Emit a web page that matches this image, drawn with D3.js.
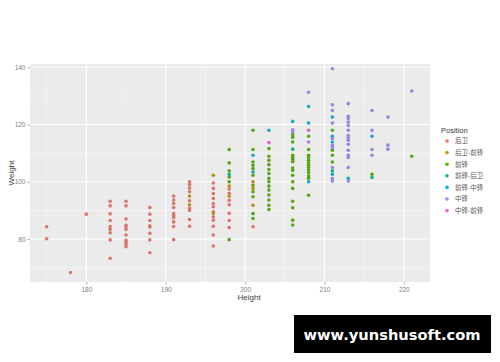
<!DOCTYPE html>
<html>
<head>
<meta charset="utf-8">
<script src="https://cdn.jsdelivr.net/npm/d3@7"></script>
<style>
  html, body { margin: 0; padding: 0; background: #ffffff; }
  svg { display: block; }
</style>
</head>
<body>
<svg id="chart" width="500" height="362"></svg>
<script>
// Player positions (legend order) and their ggplot hue colours
const positions = ["后卫", "后卫-前锋", "前锋", "前锋-后卫", "前锋-中锋", "中锋", "中锋-前锋"];
const colors = ["#F8766D", "#C49A00", "#53B400", "#00C094", "#00B6EB", "#A58AFF", "#FB61D7"];

// [height (cm), weight (kg)] per position
const guards = [
  [175, 84.3], [175, 80.1], [178, 68.3], [180, 88.7],
  [183, 93.2], [183, 91.6], [183, 88.8], [183, 86.5], [183, 84.4], [183, 83.4], [183, 82.2], [183, 79.7], [183, 73.3],
  [185, 93.2], [185, 91.6], [185, 87.0], [185, 84.8], [185, 84.2], [185, 83.4], [185, 81.4], [185, 79.6], [185, 78.8], [185, 78.1], [185, 77.3],
  [188, 91.0], [188, 88.7], [188, 86.5], [188, 84.6], [188, 84.2], [188, 82.0], [188, 79.7], [188, 75.2],
  [191, 95.0], [191, 93.6], [191, 92.4], [191, 91.0], [191, 88.9], [191, 88.2], [191, 87.5], [191, 86.0], [191, 84.4], [191, 79.8],
  [193, 100.0], [193, 99.0], [193, 97.8], [193, 96.5], [193, 93.4], [193, 90.8], [193, 90.1], [193, 86.8], [193, 84.5],
  [196, 99.6], [196, 97.7], [196, 95.9], [196, 94.2], [196, 92.4], [196, 91.3], [196, 89.5], [196, 87.8], [196, 86.6], [196, 84.5], [196, 81.4], [196, 77.6],
  [198, 97.5], [198, 96.0], [198, 93.5], [198, 92.0], [198, 89.0], [198, 86.5], [198, 84.0],
  [201, 84.3]
];
const guardForwards = [
  [193, 95.0], [193, 92.0], [196, 102.3], [196, 89.0],
  [198, 98.5], [198, 95.0], [201, 100.0], [201, 97.7], [201, 91.8]
];
const forwards = [
  [198, 111.3], [198, 106.6], [198, 103.8], [198, 101.7], [198, 100.0], [198, 79.8],
  [201, 118.0], [201, 111.3], [201, 106.9], [201, 105.8], [201, 104.6], [201, 102.3], [201, 98.8], [201, 96.5], [201, 94.8], [201, 88.9], [201, 87.2],
  [203, 111.6], [203, 108.9], [203, 107.5], [203, 106.0], [203, 104.3], [203, 102.9], [203, 101.2], [203, 100.0], [203, 98.5], [203, 97.1], [203, 95.4], [203, 93.6], [203, 91.8], [203, 90.3],
  [206, 116.5], [206, 115.6], [206, 113.9], [206, 109.3], [206, 108.5], [206, 107.8], [206, 107.0], [206, 104.8], [206, 104.0], [206, 102.3], [206, 100.0], [206, 97.7], [206, 93.2], [206, 90.9], [206, 86.6], [206, 84.9],
  [208, 115.9], [208, 111.3], [208, 109.3], [208, 108.5], [208, 107.5], [208, 106.6], [208, 105.8], [208, 105.0], [208, 104.1], [208, 103.2], [208, 102.0], [208, 101.2], [208, 95.3],
  [211, 118.0], [211, 111.0], [211, 109.3], [211, 106.9],
  [216, 102.6], [221, 108.9]
];
const forwardGuards = [
  [198, 102.6], [201, 103.4], [206, 111.4], [211, 103.8], [216, 101.5]
];
const forwardCenters = [
  [201, 109.3], [203, 118.0], [206, 121.1], [208, 126.3], [208, 120.5], [208, 100.0],
  [211, 122.6], [211, 115.9], [211, 113.9], [211, 102.6], [213, 101.2], [216, 115.9]
];
const centers = [
  [206, 118.2], [206, 117.4], [208, 131.3], [208, 113.9],
  [211, 139.5], [211, 126.9], [211, 124.9], [211, 120.5], [211, 115.1], [211, 112.8], [211, 112.0], [211, 105.0], [211, 101.1], [211, 100.3],
  [213, 127.3], [213, 122.9], [213, 122.1], [213, 120.9], [213, 119.7], [213, 118.0], [213, 116.2], [213, 115.4], [213, 114.5], [213, 113.1], [213, 111.0], [213, 109.3], [213, 108.5], [213, 105.0], [213, 100.3],
  [216, 124.9], [216, 118.0], [216, 111.3], [216, 109.3],
  [218, 122.6], [218, 112.8], [218, 111.4], [221, 131.7]
];
const centerForwards = [[203, 113.7], [208, 118.0]];

const groups = [guards, guardForwards, forwards, forwardGuards, forwardCenters, centers, centerForwards];

const xTicks = [180, 190, 200, 210, 220];
const xMinor = [175, 185, 195, 205, 215];
const yTicks = [80, 100, 120, 140];
const yMinor = [70, 90, 110, 130];

const svg = d3.select("#chart");
const panel = { left: 30, right: 430, top: 64, bottom: 282 };

const x = d3.scaleLinear().domain([172.9, 223.3]).range([panel.left, panel.right]);
const y = d3.scaleLinear().domain([65.0, 141.15]).range([panel.bottom, panel.top]);

// slightly toned-down point fills
const muted = c => d3.interpolateRgb(c, "#707070")(0.22);

// panel background
svg.append("rect")
  .attr("x", panel.left).attr("y", panel.top)
  .attr("width", panel.right - panel.left).attr("height", panel.bottom - panel.top)
  .attr("fill", "#EBEBEB");

const grid = svg.append("g");
// minor grid
grid.selectAll(".vminor").data(xMinor).join("line")
  .attr("x1", d => x(d)).attr("x2", d => x(d))
  .attr("y1", panel.top).attr("y2", panel.bottom)
  .attr("stroke", "#F7F7F7").attr("stroke-width", 0.6);
grid.selectAll(".hminor").data(yMinor).join("line")
  .attr("y1", d => y(d)).attr("y2", d => y(d))
  .attr("x1", panel.left).attr("x2", panel.right)
  .attr("stroke", "#F7F7F7").attr("stroke-width", 0.6);
// major grid
grid.selectAll(".vmajor").data(xTicks).join("line")
  .attr("x1", d => x(d)).attr("x2", d => x(d))
  .attr("y1", panel.top).attr("y2", panel.bottom)
  .attr("stroke", "#FFFFFF").attr("stroke-width", 1.1);
grid.selectAll(".hmajor").data(yTicks).join("line")
  .attr("y1", d => y(d)).attr("y2", d => y(d))
  .attr("x1", panel.left).attr("x2", panel.right)
  .attr("stroke", "#FFFFFF").attr("stroke-width", 1.1);

// axes
const xAxis = svg.append("g")
  .attr("transform", `translate(0,${panel.bottom})`)
  .call(d3.axisBottom(x).tickValues(xTicks).tickSize(2.5).tickPadding(3));
const yAxis = svg.append("g")
  .attr("transform", `translate(${panel.left},0)`)
  .call(d3.axisLeft(y).tickValues(yTicks).tickSize(2.5).tickPadding(2));
[xAxis, yAxis].forEach(g => {
  g.select(".domain").remove();
  g.selectAll(".tick line").attr("stroke", "#777").attr("stroke-width", 0.6);
  g.selectAll(".tick text")
    .attr("fill", "#808080")
    .style("font-family", "'Liberation Sans', Arial, sans-serif")
    .style("font-size", "6.5px");
});

// points
svg.append("g").selectAll("g").data(groups).join("g")
  .attr("fill", (d, i) => muted(colors[i]))
  .selectAll("circle").data(d => d).join("circle")
  .attr("cx", d => x(d[0]))
  .attr("cy", d => y(d[1]))
  .attr("r", 1.8);

// axis titles
svg.append("text")
  .attr("x", x(200.5)).attr("y", 300)
  .attr("text-anchor", "middle")
  .attr("fill", "#3a3a3a")
  .style("font-family", "'Liberation Sans', Arial, sans-serif")
  .style("font-size", "8px")
  .text("Height");
svg.append("text")
  .attr("transform", `translate(14,${(panel.top + panel.bottom) / 2}) rotate(-90)`)
  .attr("text-anchor", "middle")
  .attr("fill", "#3a3a3a")
  .style("font-family", "'Liberation Sans', Arial, sans-serif")
  .style("font-size", "8px")
  .text("Weight");

// legend
const legend = svg.append("g").attr("transform", "translate(441,0)");
legend.append("text")
  .attr("x", 0).attr("y", 133)
  .attr("fill", "#3a3a3a")
  .style("font-family", "'Liberation Sans', Arial, sans-serif")
  .style("font-size", "7.5px")
  .text("Position");
const items = legend.selectAll(".item").data(positions).join("g")
  .attr("transform", (d, i) => `translate(0,${141 + i * 11.6})`);
items.append("circle")
  .attr("cx", 6).attr("cy", 0).attr("r", 1.8)
  .attr("fill", (d, i) => colors[i]);
items.append("text")
  .attr("x", 14).attr("y", 2.4)
  .attr("fill", "#555")
  .style("font-family", "'Noto Sans CJK SC', sans-serif")
  .style("font-size", "6.5px")
  .text(d => d);

// site badge
svg.append("rect")
  .attr("x", 294).attr("y", 315).attr("width", 197).attr("height", 38)
  .attr("fill", "#000");
svg.append("text")
  .attr("x", 392).attr("y", 340)
  .attr("text-anchor", "middle")
  .attr("fill", "#fff")
  .attr("textLength", 177)
  .attr("lengthAdjust", "spacingAndGlyphs")
  .style("font-family", "'DejaVu Sans', Verdana, sans-serif")
  .style("font-weight", "bold")
  .style("font-size", "14px")
  .text("www.yunshusoft.com");
</script>
</body>
</html>
